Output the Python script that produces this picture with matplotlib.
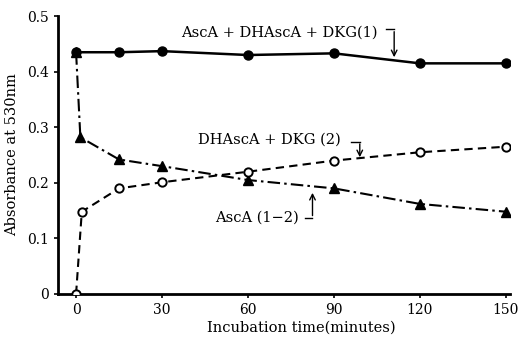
import matplotlib
matplotlib.use("Agg")
import matplotlib.pyplot as plt

# values
t_total = [0, 15, 30, 60, 90, 120, 150]
abs_total = [0.435, 0.435, 0.437, 0.430, 0.433, 0.415, 0.415]

t_dh = [0, 2, 15, 30, 60, 90, 120, 150]
abs_dh = [0.0, 0.148, 0.190, 0.201, 0.220, 0.240, 0.255, 0.265]

t_asca = [0, 1.5, 15, 30, 60, 90, 120, 150]
abs_asca = [0.435, 0.282, 0.242, 0.230, 0.205, 0.190, 0.162, 0.148]

x_ticks = [0, 30, 60, 90, 120, 150]
y_ticks = [0, 0.1, 0.2, 0.3, 0.4, 0.5]
y_ticklabels = ["0", "0.1", "0.2", "0.3", "0.4", "0.5"]

plt.rcParams["font.family"] = ["DejaVu Serif"]

fig = plt.figure(figsize=(5.18, 3.43), dpi=100)
ax = fig.add_axes([0.112, 0.143, 0.873, 0.810])

ax.plot(t_total, abs_total, "-", color="black", lw=1.8, marker="o", ms=6.5,
        mfc="black", zorder=3)
ax.plot(t_dh, abs_dh, color="black", lw=1.5, ls=(0, (4, 2.5)), marker="o", ms=6,
        mfc="white", mew=1.4, zorder=4)
ax.plot(t_asca, abs_asca, color="black", lw=1.5, ls=(0, (6, 2, 1.2, 2)),
        marker="^", ms=6.5, mfc="black", zorder=3)

ax.set_xlim(-6.3, 151.5)
ax.set_ylim(0, 0.5)
ax.set_xticks(x_ticks)
ax.set_yticks(y_ticks)
ax.set_yticklabels(y_ticklabels)
ax.tick_params(direction="out", length=3, width=1.2, labelsize=10)
for s in ("top", "right"):
    ax.spines[s].set_visible(False)
for s in ("left", "bottom"):
    ax.spines[s].set_linewidth(2)

ax.set_xlabel("Incubation time(minutes)", fontsize=10.5, labelpad=3)
ax.xaxis.label.set_x(0.538)
ax.set_ylabel("Absorbance at 530nm", fontsize=10.5, labelpad=6)

# bracket-style labels
arrow_kw = dict(arrowstyle="->", color="black", lw=1.0)
ax.text(36.5, 0.471, "AscA + DHAscA + DKG(1)", fontsize=10.5, va="center")
ax.plot([108, 111], [0.476, 0.476], color="black", lw=1.0)
ax.annotate("", xy=(111, 0.421), xytext=(111, 0.477), arrowprops=arrow_kw)

ax.text(42.5, 0.277, "DHAscA + DKG (2)", fontsize=10.5, va="center")
ax.plot([96, 99], [0.274, 0.274], color="black", lw=1.0)
ax.annotate("", xy=(99, 0.241), xytext=(99, 0.275), arrowprops=arrow_kw)

ax.text(48.5, 0.138, "AscA (1\u22122)", fontsize=10.5, va="center")
ax.plot([80, 82.5], [0.137, 0.137], color="black", lw=1.0)
ax.annotate("", xy=(82.5, 0.187), xytext=(82.5, 0.136), arrowprops=arrow_kw)

fig.savefig("out.png", dpi=100)
